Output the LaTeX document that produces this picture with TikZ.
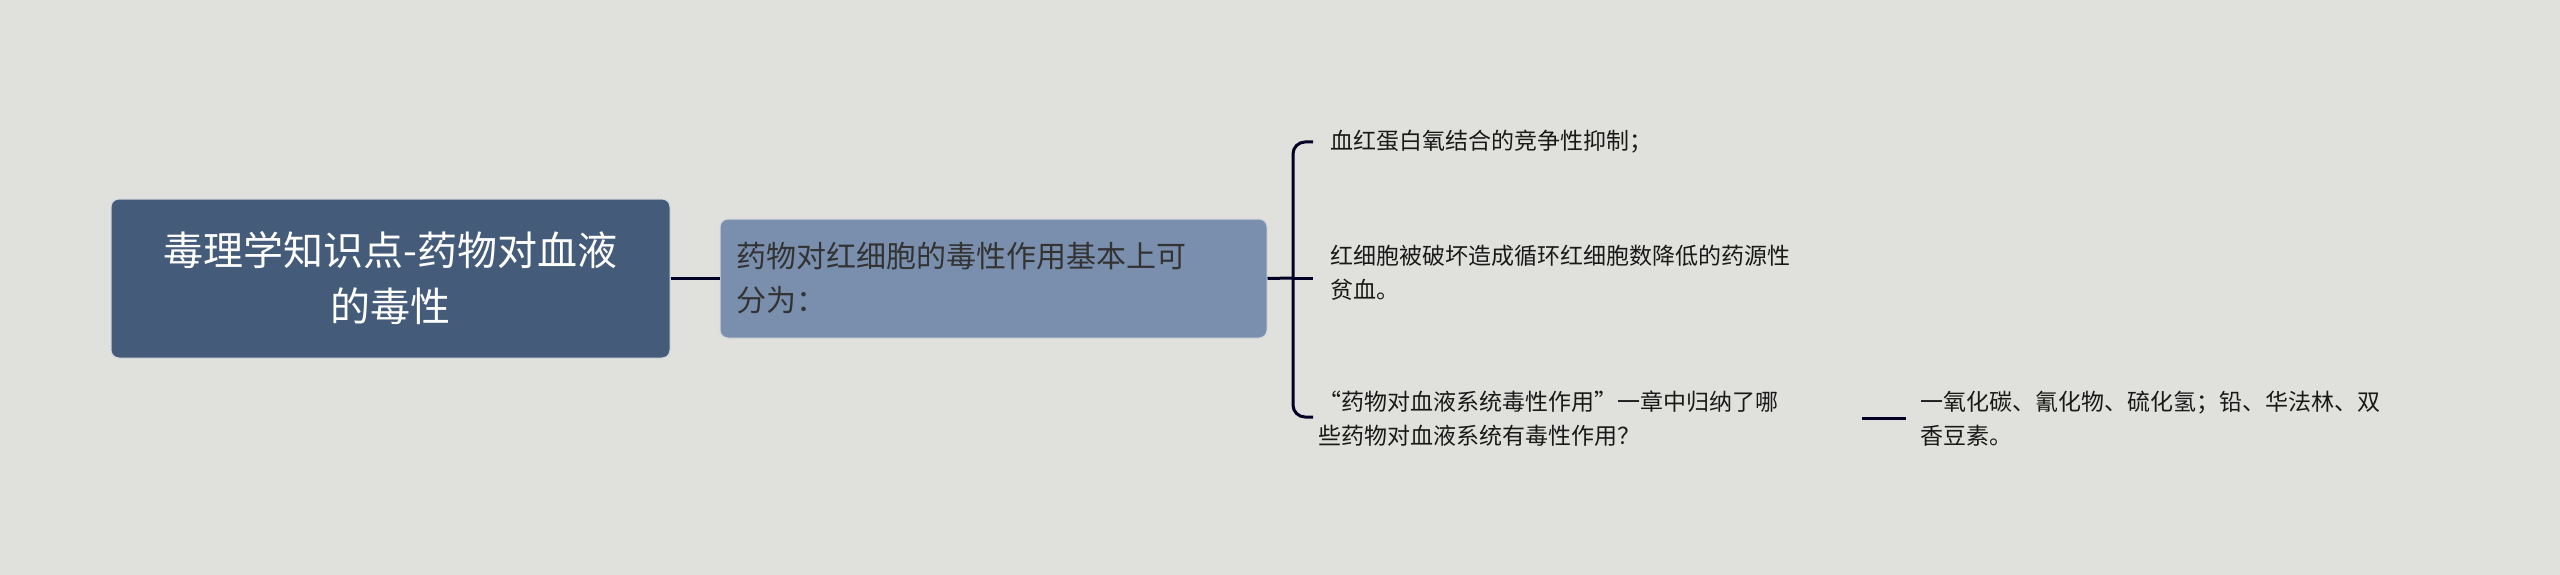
\documentclass[tikz,border=0pt]{standalone}
\usepackage{fontspec}
\setmainfont{Noto Sans CJK SC}
\begin{document}
\begin{tikzpicture}[x=1pt,y=-1pt,
  conn/.style={line width=3pt,color=black!85!blue},
  leaf/.style={anchor=west,align=left,inner sep=0pt,font=\fontsize{23}{34}\selectfont,text=black!90},
]
\useasboundingbox[fill={rgb,255:red,224;green,225;blue,220}] (0,0) rectangle (2560,575);
\node[fill={rgb,255:red,68;green,91;blue,122},draw={rgb,255:red,210;green,215;blue,220},line width=1pt,rounded corners=8pt,minimum width=559pt,minimum height=159pt,align=center,text=white,font=\fontsize{40}{56}\selectfont] (root) at (390.5,278.5) {毒理学知识点-药物对血液\\的毒性};
\node[fill={rgb,255:red,122;green,143;blue,173},draw={rgb,255:red,210;green,215;blue,220},line width=1pt,rounded corners=8pt,minimum width=547pt,minimum height=119pt,text width=515pt,align=left,text=black!80,font=\fontsize{30}{44}\selectfont] (child) at (993.5,278.5) {药物对红细胞的毒性作用基本上可\\分为：};
\coordinate (b) at (1292,278);
\draw[conn] (root.east) -- (child.west);
\draw[conn] (child.east) -- (b);
\node[leaf] (l1) at (1330,142) {血红蛋白氧结合的竞争性抑制；};
\node[leaf] (l2) at (1330,273) {红细胞被破坏造成循环红细胞数降低的药源性\\贫血。};
\node[leaf] (l3) at (1318,419) {“药物对血液系统毒性作用”一章中归纳了哪\\些药物对血液系统有毒性作用？};
\node[leaf] (l4) at (1920,419) {一氧化碳、氰化物、硫化氢；铅、华法林、双\\香豆素。};
\coordinate (t1) at (1313,142);
\coordinate (t3) at (1313,417);
\draw[conn,rounded corners=12pt] (t1) -- (1293,142) -- (1293,417) -- (t3);
\draw[conn] (b) -- (1313,278);
\coordinate (c1) at (1862,418);
\coordinate (c2) at (1906,418);
\draw[conn] (c1) -- (c2);
\end{tikzpicture}
\end{document}
